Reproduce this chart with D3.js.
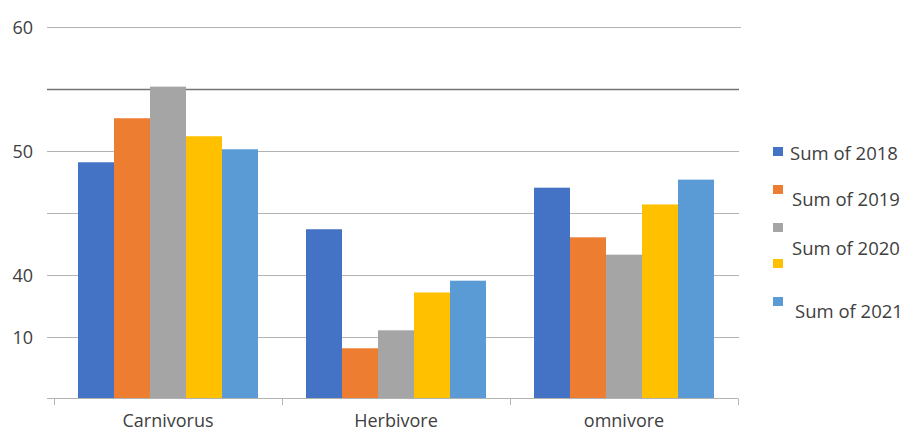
<!DOCTYPE html>
<html>
<head>
<meta charset="utf-8">
<script src="https://cdn.jsdelivr.net/npm/d3@7"></script>
<style>
  html, body { margin: 0; padding: 0; background: #fff; }
  svg { display: block; }
  text { font-family: "Open Sans", "Noto Sans", sans-serif; fill: #404040; }
</style>
</head>
<body>
<svg id="chart" width="906" height="433"></svg>
<script>
// Categories and yearly sums
const categories = ["Carnivorus", "Herbivore", "omnivore"];
const years = ["2018", "2019", "2020", "2021", "2022"];
const legendLabels = ["Sum of 2018", "Sum of 2019", "Sum of 2020", "", "Sum of 2021"];
const values2018 = [38.1, 27.3, 34.0];
const values2019 = [45.2, 8.1, 26.0];
const values2020 = [50.3, 11.0, 23.2];
const values2021 = [42.3, 17.1, 31.3];
const values2022 = [40.2, 19.0, 35.3];
const seriesValues = [values2018, values2019, values2020, values2021, values2022];
const colors = ["#4472C4", "#ED7D31", "#A5A5A5", "#FFC000", "#5B9BD5"];

// Gridline values and the labels printed beside them
const gridValues = [0, 10, 20, 30, 40, 50, 60];
const tickValues = [60, 40, 20, 10];
const tickLabels = ["60", "50", "40", "10"];

const svg = d3.select("#chart");

const x0 = d3.scaleBand().domain(categories).range([54, 738]).paddingInner(0).paddingOuter(0);
const x1 = d3.scaleBand().domain(years).range([24, 228 - 24]).padding(0);
const y = d3.scaleLinear().domain([0, 60]).range([398.5, 26.5]);

// Horizontal gridlines
svg.append("g").selectAll("line")
  .data(gridValues.filter(v => v > 0))
  .join("line")
  .attr("x1", 47).attr("x2", d => d === 60 ? 741 : 739)
  .attr("y1", d => Math.round(y(d)) + 0.5).attr("y2", d => Math.round(y(d)) + 0.5)
  .attr("stroke", d => d === 50 ? "#737373" : "#b3b3b3")
  .attr("stroke-width", d => d === 50 ? 1.6 : 1);

// Y labels
svg.append("g").selectAll("text")
  .data(tickValues)
  .join("text")
  .attr("x", 33).attr("y", d => y(d))
  .attr("text-anchor", "end").attr("dominant-baseline", "central")
  .style("font-size", "18px")
  .text((d, i) => tickLabels[i]);

// Bars
const groups = svg.append("g").selectAll("g")
  .data(categories)
  .join("g")
  .attr("transform", d => `translate(${x0(d)},0)`);

groups.selectAll("rect")
  .data((c, ci) => years.map((yr, si) => ({ yr, si, v: seriesValues[si][ci] })))
  .join("rect")
  .attr("x", d => x1(d.yr))
  .attr("width", x1.bandwidth())
  .attr("y", d => y(d.v))
  .attr("height", d => y(0) - y(d.v))
  .attr("fill", d => colors[d.si]);

// Category axis
const xAxis = d3.axisBottom(x0).tickSize(0).tickPadding(16);
const ax = svg.append("g").attr("transform", `translate(0,${398.5})`).call(xAxis);
ax.select(".domain").remove();
ax.selectAll("text").style("font-size", "18px").style("font-family", "'Open Sans', sans-serif").attr("fill", "#404040");
svg.append("line").attr("x1", 47).attr("x2", 738).attr("y1", 398.5).attr("y2", 398.5)
  .attr("stroke", "#b3b3b3");
svg.append("g").selectAll("line")
  .data(categories.concat(["end"]))
  .join("line")
  .attr("x1", (d, i) => i < categories.length ? x0(d) + 0.5 : x0.range()[1] + 0.5)
  .attr("x2", (d, i) => i < categories.length ? x0(d) + 0.5 : x0.range()[1] + 0.5)
  .attr("y1", 398.5).attr("y2", 405)
  .attr("stroke", "#b3b3b3");

// Legend
const legendSwatchY = [147, 185, 223, 259, 297];
const legendTextY = [152, 198, 247, null, 310];
const legendTextX = [790, 792, 792, null, 795];
const lg = svg.append("g");
legendLabels.forEach((lab, i) => {
  lg.append("rect").attr("x", 773).attr("y", legendSwatchY[i])
    .attr("width", 10).attr("height", 9).attr("fill", colors[i]);
  if (lab) {
    lg.append("text").attr("x", legendTextX[i]).attr("y", legendTextY[i])
      .attr("dominant-baseline", "central").style("font-size", "18.5px").text(lab);
  }
});
</script>
</body>
</html>
